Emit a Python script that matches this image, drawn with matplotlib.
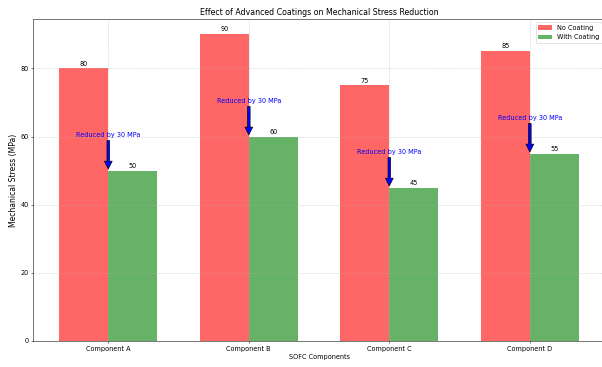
import matplotlib
matplotlib.use('Agg')
import matplotlib.pyplot as plt
import numpy as np

components = ['Component A', 'Component B', 'Component C', 'Component D']
no_coating = [80, 90, 75, 85]
with_coating = [50, 60, 45, 55]

x = np.arange(len(components))
width = 0.35

DPI = 47
fig = plt.figure(figsize=(602 / DPI, 367 / DPI), dpi=DPI)
ax = fig.add_axes([0.055, 0.071, 0.95, 0.877])

bars1 = ax.bar(x - width / 2, no_coating, width, label='No Coating', color='red', alpha=0.6)
bars2 = ax.bar(x + width / 2, with_coating, width, label='With Coating', color='green', alpha=0.6)

for bars in (bars1, bars2):
    for b in bars:
        h = b.get_height()
        ax.annotate('%d' % h, xy=(b.get_x() + b.get_width() / 2, h), xytext=(0, 3),
                    textcoords='offset points', ha='center', va='bottom')

# arrows showing the reduction
for i in range(len(components)):
    diff = no_coating[i] - with_coating[i]
    ax.annotate('Reduced by %d MPa' % diff, xy=(x[i], with_coating[i]),
                xytext=(x[i], with_coating[i] + 10), ha='center', color='blue',
                arrowprops=dict(facecolor='blue', shrink=0.05))

ax.set_title('Effect of Advanced Coatings on Mechanical Stress Reduction')
ax.set_xlabel('SOFC Components')
ax.set_ylabel('Mechanical Stress (MPa)', fontsize=11.7)
ax.set_xticks(x)
ax.set_xticklabels(components)
ax.legend(loc='upper right')
ax.grid(True, linestyle='--', alpha=0.6)

fig.savefig('out.png', dpi=DPI)
